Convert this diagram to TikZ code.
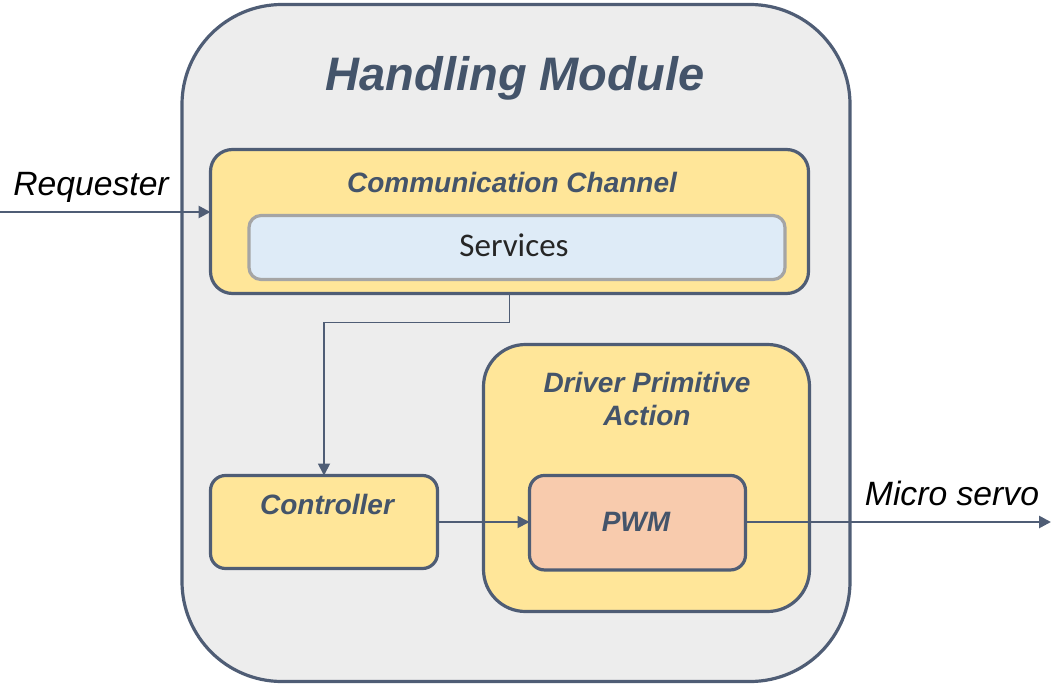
\documentclass[tikz,border=0pt]{standalone}
\usepackage{fontspec}
\setmainfont{Liberation Sans}
\newfontfamily\calib{Carlito}
\usetikzlibrary{arrows.meta}
\definecolor{edge}{HTML}{4F5D75}
\definecolor{labeltext}{HTML}{44546A}
\definecolor{panel}{HTML}{EDEDED}
\definecolor{amber}{HTML}{FFE699}
\definecolor{skyfill}{HTML}{DEEBF7}
\definecolor{skyedge}{HTML}{A5A5A5}
\definecolor{salmon}{HTML}{F8CBAD}
\tikzset{
  box/.style={draw=edge, line width=3.2pt, rectangle, inner sep=0pt, outer sep=0pt},
  boxlabel/.style={font=\fontsize{28}{34}\selectfont\bfseries\itshape, text=labeltext, anchor=base, inner sep=0pt},
  extlabel/.style={font=\fontsize{33.7}{40}\selectfont\itshape, text=black, anchor=base, inner sep=0pt},
  flow/.style={draw=edge, line width=1.8pt, -{Triangle[length=12pt,width=12pt]}},
  extflow/.style={draw=edge, line width=2.6pt, -{Triangle[length=12pt,width=12pt]}},
}
\begin{document}
\begin{tikzpicture}[x=1pt, y=-1pt]
\useasboundingbox (0,0) rectangle (1051,685);

% enclosing module
\node[box, fill=panel, minimum width=668pt, minimum height=677pt, rounded corners=100pt] (module) at (516,343) {};
\node[font=\fontsize{47}{56}\selectfont\bfseries\itshape, text=labeltext, anchor=base, inner sep=0pt] (title) at (515,90) {Handling Module};

% communication channel with its services
\node[box, fill=amber, minimum width=598pt, minimum height=144pt, rounded corners=22pt] (comm) at (509.5,221.5) {};
\node[boxlabel] (commlabel) at (512,192) {Communication Channel};
\node[draw=skyedge, line width=3.2pt, fill=skyfill, rectangle, minimum width=536pt, minimum height=64pt, rounded corners=12pt, inner sep=0pt] (services) at (517,247.5) {};
\node[font=\fontsize{33}{40}\selectfont\calib, text=black!85, anchor=base, inner sep=0pt] (serviceslabel) at (514,256) {Services};

% driver primitive action with PWM
\node[box, fill=amber, minimum width=326pt, minimum height=267pt, rounded corners=42pt] (driver) at (646.5,478) {};
\node[boxlabel] (driverlabel1) at (647,392) {Driver Primitive};
\node[boxlabel] (driverlabel2) at (647,425) {Action};
\node[box, fill=salmon, minimum width=216pt, minimum height=94.5pt, rounded corners=15pt] (pwm) at (637.5,522.7) {};
\node[boxlabel] (pwmlabel) at (636,531) {PWM};

% controller
\node[box, fill=amber, minimum width=227pt, minimum height=93pt, rounded corners=15pt] (ctrl) at (324,522) {};
\node[boxlabel] (ctrllabel) at (327,514) {Controller};

% connectors
\coordinate (reqstart) at (0,212);
\coordinate (servoend) at (1051,522);
\draw[extflow] (reqstart) -- (reqstart -| comm.west);
\node[extlabel] (reqlabel) at (91,195) {Requester};
\draw[flow] (comm.south) -- ++(0,29) -| (ctrl.north);
\draw[flow] (ctrl.east) -- (ctrl.east -| pwm.west);
\draw[extflow] (pwm.east |- servoend) -- (servoend);
\node[extlabel] (servolabel) at (952,505) {Micro servo};
\end{tikzpicture}
\end{document}
